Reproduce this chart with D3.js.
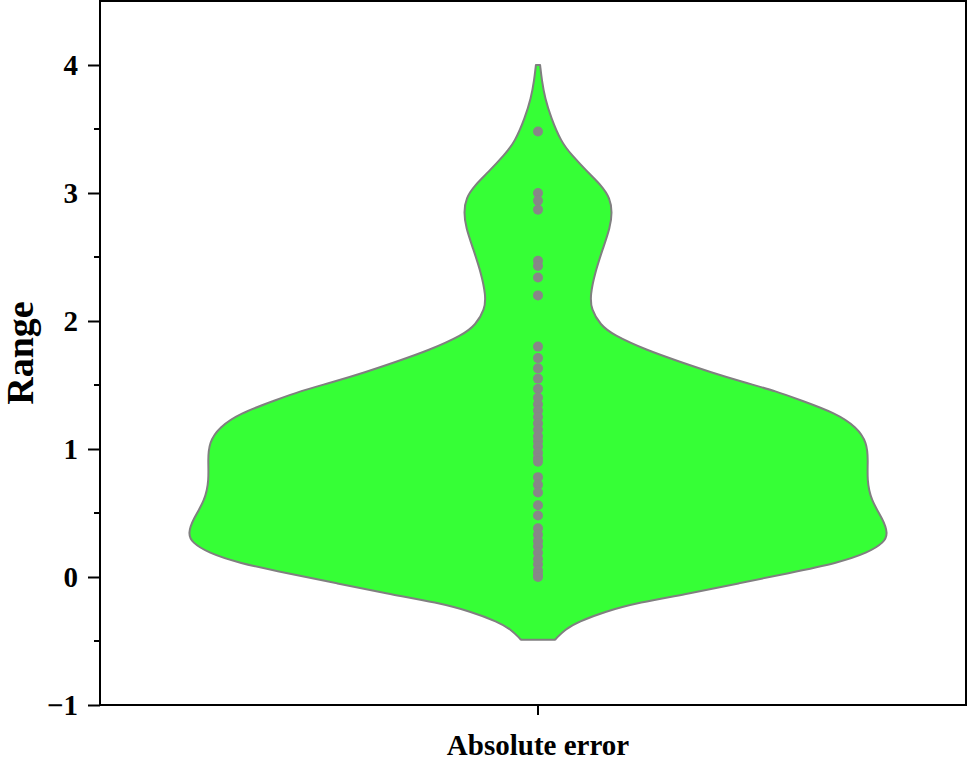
<!DOCTYPE html>
<html>
<head>
<meta charset="utf-8">
<script src="https://cdn.jsdelivr.net/npm/d3@7"></script>
<style>
  html, body { margin: 0; padding: 0; background: #fff; }
  svg { display: block; }
  text { font-family: "Liberation Serif", "Times New Roman", serif; font-weight: bold; }
</style>
</head>
<body>
<svg id="chart" width="976" height="762"></svg>
<script>
// ---- data ----
const categories = ["Absolute error"];
const pointValues = [3.48, 3.00, 2.94, 2.87, 2.47, 2.43, 2.34, 2.20, 1.80, 1.71, 1.63, 1.55, 1.47,
  1.40, 1.35, 1.30, 1.25, 1.20, 1.15, 1.10, 1.06, 1.02, 0.97, 0.93, 0.90,
  0.78, 0.72, 0.66, 0.56, 0.48, 0.38, 0.33, 0.28, 0.24, 0.19, 0.14, 0.10, 0.05, 0.02, 0.00];
// violin outline: value along y and relative density (half-width, max = 1)
const violinY = [4.00, 3.88, 3.74, 3.59, 3.40, 3.30, 3.16, 3.06, 2.96, 2.85, 2.73, 2.57, 2.38, 2.20,
  2.09, 1.97, 1.89, 1.77, 1.68, 1.60, 1.52, 1.45, 1.38, 1.28, 1.17, 1.05, 0.91, 0.76, 0.60,
  0.45, 0.34, 0.27, 0.19, 0.11, 0.03, -0.05, -0.13, -0.20, -0.27, -0.35, -0.41, -0.48, -0.49];
const violinDensity = [0.006, 0.011, 0.020, 0.037, 0.066, 0.095, 0.143, 0.181, 0.206, 0.212, 0.206,
  0.186, 0.163, 0.149, 0.152, 0.178, 0.215, 0.312, 0.407, 0.493, 0.590, 0.682, 0.751, 0.851,
  0.911, 0.940, 0.943, 0.940, 0.951, 0.986, 1.000, 0.989, 0.943, 0.857, 0.716, 0.573, 0.430,
  0.287, 0.192, 0.115, 0.077, 0.052, 0.049];
const yTicks = [-1, 0, 1, 2, 3, 4];
const yMinorTicks = [-0.5, 0.5, 1.5, 2.5, 3.5];
const yLabel = "Range";

// ---- layout ----
const svg = d3.select("#chart");
const plotLeft = 100, plotRight = 966, plotTop = 1, plotBottom = 705;

const y = d3.scaleLinear().domain([-1, 4.5]).range([plotBottom, plotTop]);
const x = d3.scaleBand().domain(categories).range([plotLeft, 976]);
const w = d3.scaleLinear().domain([0, 1]).range([0, 350]);

const cx = x(categories[0]) + x.bandwidth() / 2;

// violin
const outline = violinY.map((v, i) => ({ v, d: violinDensity[i] }));
const area = d3.area()
  .y(d => y(d.v))
  .x0(d => cx - w(d.d))
  .x1(d => cx + w(d.d))
  .curve(d3.curveBasis);
svg.append("path")
  .datum(outline)
  .attr("d", area)
  .attr("fill", "#36ff36")
  .attr("stroke", "#807f80")
  .attr("stroke-width", 2)
  .attr("stroke-linejoin", "round");

// points
svg.append("g").selectAll("circle")
  .data(pointValues)
  .join("circle")
  .attr("cx", cx)
  .attr("cy", d => y(d))
  .attr("r", 5)
  .attr("fill", "#878787");

// frame
svg.append("rect")
  .attr("x", plotLeft).attr("y", plotTop)
  .attr("width", plotRight - plotLeft).attr("height", plotBottom - plotTop)
  .attr("fill", "none").attr("stroke", "#000").attr("stroke-width", 2);

// y axis
const yAxis = d3.axisLeft(y)
  .tickValues(yTicks)
  .tickSize(12)
  .tickPadding(10)
  .tickFormat(d => d < 0 ? "\u2212" + Math.abs(d) : String(d));
const gy = svg.append("g").attr("transform", `translate(${plotLeft},0)`).call(yAxis);
gy.select(".domain").remove();
gy.selectAll(".tick line").attr("stroke", "#000").attr("stroke-width", 2);
gy.selectAll(".tick text")
  .attr("fill", "#000")
  .style("font-size", "29px")
  .style("font-family", "'Liberation Serif', 'Times New Roman', serif")
  .style("font-weight", "bold");

// minor ticks
svg.append("g").selectAll("line")
  .data(yMinorTicks)
  .join("line")
  .attr("x1", plotLeft - 6).attr("x2", plotLeft)
  .attr("y1", d => y(d)).attr("y2", d => y(d))
  .attr("stroke", "#000").attr("stroke-width", 2);

// x axis
const xAxis = d3.axisBottom(x).tickSize(10).tickFormat(() => "");
const gx = svg.append("g").attr("transform", `translate(0,${plotBottom})`).call(xAxis);
gx.select(".domain").remove();
gx.selectAll(".tick line").attr("stroke", "#000").attr("stroke-width", 2);

svg.append("text")
  .attr("x", cx)
  .attr("y", 755)
  .attr("text-anchor", "middle")
  .style("font-size", "29px")
  .attr("fill", "#000")
  .text(categories[0]);

svg.append("text")
  .attr("transform", `translate(33,${(plotTop + plotBottom) / 2}) rotate(-90)`)
  .attr("text-anchor", "middle")
  .style("font-size", "38px")
  .attr("fill", "#000")
  .text(yLabel);
</script>
</body>
</html>
